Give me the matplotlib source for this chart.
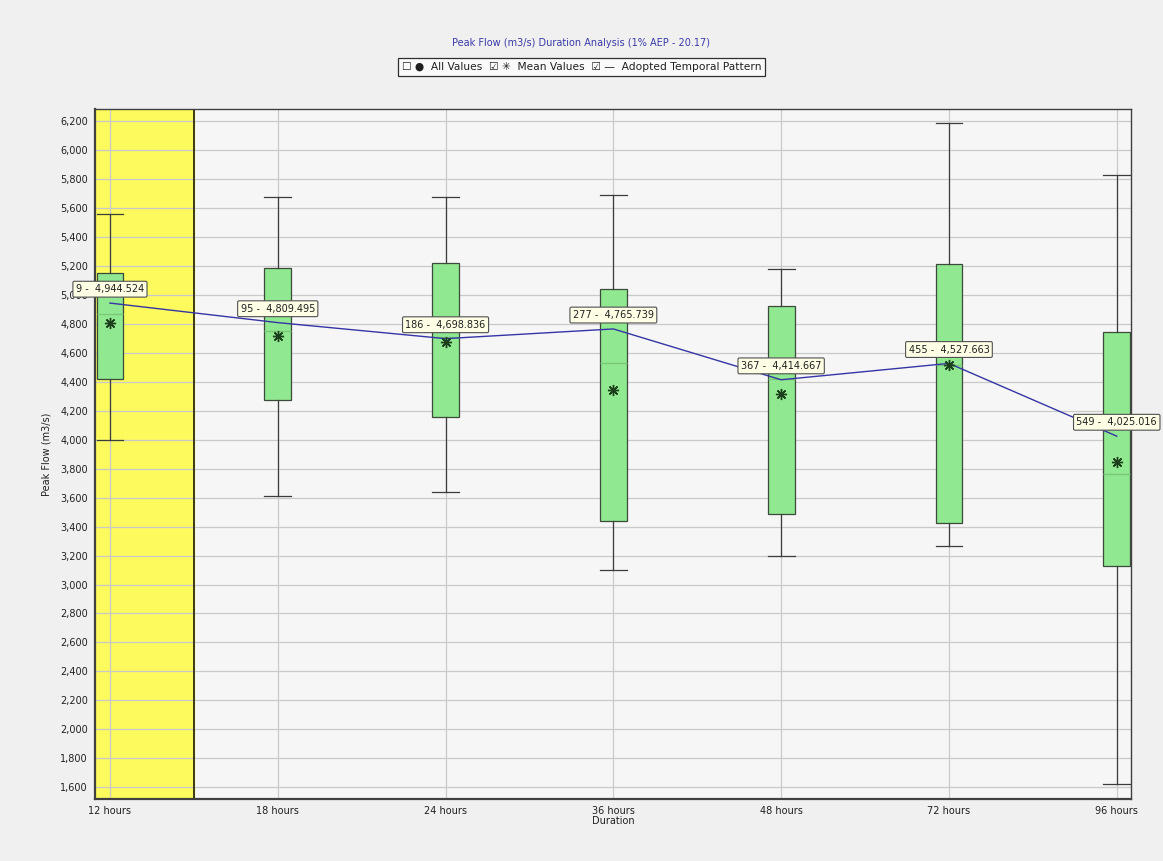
import matplotlib
matplotlib.use("Agg")
import matplotlib.pyplot as plt
from matplotlib.ticker import FuncFormatter, MultipleLocator

# data
durations = ["12 hours", "18 hours", "24 hours", "36 hours", "48 hours", "72 hours", "96 hours"]
whisk_low = [4000, 3610, 3640, 3100, 3200, 3268, 1620]
q1 = [4420, 4273, 4158, 3438, 3486, 3422, 3127]
medians = [4870, 4750, 4710, 4531, 4420, 4520, 3762]
q3 = [5152, 5185, 5219, 5040, 4925, 5212, 4743]
whisk_high = [5558, 5675, 5675, 5689, 5178, 6190, 5827]
means = [4807, 4717, 4676, 4342, 4315, 4515, 3847]
adopted_ids = [9, 95, 186, 277, 367, 455, 549]
adopted_vals = [4944.524, 4809.495, 4698.836, 4765.739, 4414.667, 4527.663, 4025.016]
critical_idx = 0

plt.rcParams["font.family"] = ["DejaVu Sans"]
fig = plt.figure(figsize=(11.63, 8.61), dpi=100, facecolor="#f0f0f0")
ax = fig.add_axes([0.0817, 0.072, 0.8908, 0.801])
ax.set_facecolor("#f6f6f6")

pos = list(range(len(durations)))

# highlighted critical duration
ax.axvspan(-0.5 + critical_idx - 0.2, critical_idx + 0.5, color="#fcfa5c", zorder=0)
ax.axvline(critical_idx + 0.5, color="#3a3a1a", lw=1.4, zorder=1)

ax.set_axisbelow(True)
ax.grid(True, axis="both", color="#c9c9c9", lw=0.9, zorder=0.5)

stats = []
for i in pos:
    stats.append({"whislo": whisk_low[i], "q1": q1[i], "med": medians[i],
                  "q3": q3[i], "whishi": whisk_high[i], "label": durations[i]})
ax.bxp(stats, positions=pos, widths=0.16, patch_artist=True, showfliers=False,
       boxprops=dict(facecolor="#90e890", edgecolor="#3c4a3c", lw=0.9),
       medianprops=dict(color="#78c878", lw=0.9),
       whiskerprops=dict(color="#3c3c3c", lw=0.9),
       capprops=dict(color="#3c3c3c", lw=0.9), capwidths=0.16, zorder=3)

ax.plot(pos, means, ls="none", marker=(8, 2, 0), ms=8, mew=1.0,
        color="#1c401c", zorder=5)
ax.plot(pos, adopted_vals, color="#3535a5", lw=1.0, zorder=4)

for i in pos:
    ax.annotate(f"{adopted_ids[i]} -  {adopted_vals[i]:,.3f}", (i, adopted_vals[i]),
                xytext=(0, 10), textcoords="offset points", ha="center", va="center",
                fontsize=7, color="#202020", zorder=7, annotation_clip=False,
                bbox=dict(boxstyle="round,pad=0.3,rounding_size=0.15",
                          fc="#ffffe6", ec="#505050", lw=0.8))

ax.set_xlim(-0.089, 6.085)
ax.set_ylim(1518, 6283)
ax.set_xticks(pos)
ax.set_xticklabels(durations)
ax.yaxis.set_major_locator(MultipleLocator(200))
ax.yaxis.set_major_formatter(FuncFormatter(lambda v, p: f"{v:,.0f}"))
ax.tick_params(labelsize=7, length=0, colors="#202020", pad=5)
for s in ax.spines.values():
    s.set_color("#404040")
    s.set_linewidth(1.0)
ax.spines["left"].set_linewidth(1.6)
ax.spines["bottom"].set_linewidth(1.6)

ax.set_xlabel("Duration", fontsize=7, color="#202020", labelpad=0)
ax.set_ylabel("Peak Flow (m3/s)", fontsize=7, color="#202020", labelpad=6)

fig.text(0.5, 0.950, "Peak Flow (m3/s) Duration Analysis (1% AEP - 20.17)",
         ha="center", va="center", fontsize=7, color="#3a3aa8")
fig.text(0.5, 0.922,
         "\u2610 \u25cf  All Values  \u2611 \u2733  Mean Values  \u2611 \u2014  Adopted Temporal Pattern",
         ha="center", va="center", fontsize=7.7, color="#202020",
         bbox=dict(boxstyle="square,pad=0.35", fc="#fafafa", ec="#303030", lw=0.9))

fig.savefig("out.png", dpi=100, facecolor=fig.get_facecolor())
